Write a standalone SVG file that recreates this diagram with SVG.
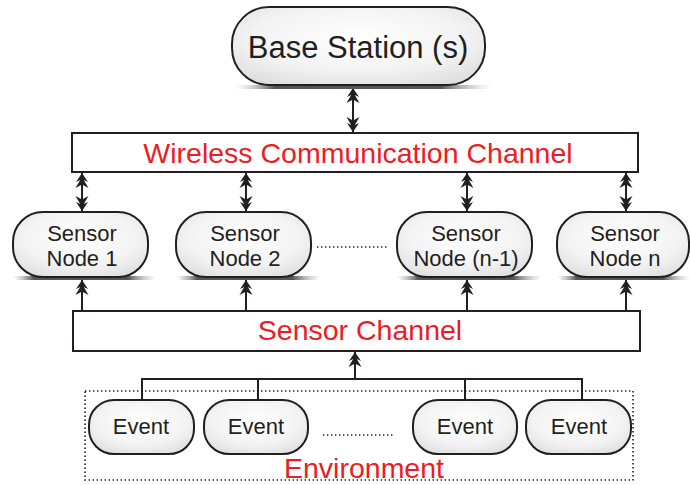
<svg xmlns="http://www.w3.org/2000/svg" width="690" height="485" viewBox="0 0 690 485">
<style>
.node{fill:url(#g);stroke:#231f20;stroke-width:2}
.box{fill:#fff;stroke:#231f20;stroke-width:2}
.t{font-family:"Liberation Sans",Arial,sans-serif;fill:#231f20;text-anchor:middle}
.r{font-family:"Liberation Sans",Arial,sans-serif;fill:#ed1c24;text-anchor:middle;font-size:28.5px}
.ln{stroke:#231f20;stroke-width:2;fill:none}
.dot{stroke:#231f20;stroke-width:1.6;fill:none;stroke-dasharray:1.4 2.6}
.sh{fill:url(#sg)}
</style>
<defs>
<radialGradient id="g" cx="0.5" cy="0.4" r="0.7">
<stop offset="0" stop-color="#ffffff"/>
<stop offset="0.6" stop-color="#f3f3f3"/>
<stop offset="1" stop-color="#dcdcdc"/>
</radialGradient>
<linearGradient id="sg" x1="0" x2="1" y1="0" y2="0">
<stop offset="0" stop-color="#bbb" stop-opacity="0"/>
<stop offset="0.15" stop-color="#555"/>
<stop offset="0.8" stop-color="#555"/>
<stop offset="1" stop-color="#bbb" stop-opacity="0"/>
</linearGradient>
<marker id="a" viewBox="-16 -7 17 14" refX="0" refY="0" markerWidth="17" markerHeight="14" markerUnits="userSpaceOnUse" orient="auto-start-reverse">
<path d="M0,0 L-9,-6 L-7,-1.8 L-15,-6.5 L-11.5,0 L-15,6.5 L-7,1.8 L-9,6 Z" fill="#231f20"/>
</marker>
</defs>

<g id="connectors">
<line class="ln" x1="353" y1="88" x2="353" y2="132" marker-start="url(#a)" marker-end="url(#a)"/>
<line class="ln" x1="82" y1="173" x2="82" y2="211" marker-start="url(#a)" marker-end="url(#a)"/>
<line class="ln" x1="246" y1="173" x2="246" y2="211" marker-start="url(#a)" marker-end="url(#a)"/>
<line class="ln" x1="467" y1="173" x2="467" y2="211" marker-start="url(#a)" marker-end="url(#a)"/>
<line class="ln" x1="626" y1="173" x2="626" y2="211" marker-start="url(#a)" marker-end="url(#a)"/>
<line class="ln" x1="82" y1="310" x2="82" y2="280" marker-end="url(#a)"/>
<line class="ln" x1="246" y1="310" x2="246" y2="280" marker-end="url(#a)"/>
<line class="ln" x1="467" y1="310" x2="467" y2="280" marker-end="url(#a)"/>
<line class="ln" x1="626" y1="310" x2="626" y2="280" marker-end="url(#a)"/>
<path class="ln" d="M142,400 V379 H582 V400 M258,379 V400 M465,379 V400"/>
<line class="ln" x1="355" y1="379" x2="355" y2="352" marker-end="url(#a)"/>
<line class="dot" x1="317" y1="247" x2="388" y2="247"/>
<line class="dot" x1="323" y1="435" x2="394" y2="435"/>
</g>

<g id="base-station">
<path class="sh" d="M236,85 H492 L490,89 H238 Z"/>
<rect class="node" x="232" y="7" width="253" height="78" rx="37" ry="37"/>
<text class="t" x="358" y="58" font-size="31">Base Station (s)</text>
</g>

<g id="wireless-channel">
<rect class="box" x="72" y="133" width="566" height="39"/>
<text class="r" x="358" y="163">Wireless Communication Channel</text>
</g>

<g id="sensor-node-1">
<path class="sh" d="M12,276 H157 L152,280 H18 Z"/>
<rect class="node" x="13" y="212" width="135" height="65" rx="30" ry="30"/>
<text class="t" x="82" y="241" font-size="22">Sensor</text>
<text class="t" x="82" y="266" font-size="22">Node 1</text>
</g>
<g id="sensor-node-2">
<path class="sh" d="M175,276 H322 L316,280 H181 Z"/>
<rect class="node" x="176" y="212" width="135" height="65" rx="30" ry="30"/>
<text class="t" x="245" y="241" font-size="22">Sensor</text>
<text class="t" x="245" y="266" font-size="22">Node 2</text>
</g>
<g id="sensor-node-n-1">
<path class="sh" d="M396,276 H543 L537,280 H402 Z"/>
<rect class="node" x="397" y="212" width="135" height="65" rx="30" ry="30"/>
<text class="t" x="466" y="241" font-size="22">Sensor</text>
<text class="t" x="466" y="266" font-size="22">Node (n-1)</text>
</g>
<g id="sensor-node-n">
<path class="sh" d="M556,276 H690 L690,280 H562 Z"/>
<rect class="node" x="557" y="212" width="132" height="65" rx="30" ry="30"/>
<text class="t" x="625" y="241" font-size="22">Sensor</text>
<text class="t" x="625" y="266" font-size="22">Node n</text>
</g>

<g id="sensor-channel">
<rect class="box" x="73" y="311" width="567" height="40"/>
<text class="r" x="360" y="340">Sensor Channel</text>
</g>

<g id="environment">
<rect class="dot" x="85" y="391" width="548" height="89"/>
<text class="r" x="364" y="478">Environment</text>
</g>

<g id="event-1">
<rect class="node" x="89" y="400" width="105" height="54" rx="25" ry="25"/>
<text class="t" x="141" y="434" font-size="22">Event</text>
</g>
<g id="event-2">
<rect class="node" x="204" y="400" width="104" height="54" rx="25" ry="25"/>
<text class="t" x="256" y="434" font-size="22">Event</text>
</g>
<g id="event-3">
<rect class="node" x="413" y="400" width="104" height="54" rx="25" ry="25"/>
<text class="t" x="465" y="434" font-size="22">Event</text>
</g>
<g id="event-4">
<rect class="node" x="526" y="400" width="105" height="54" rx="25" ry="25"/>
<text class="t" x="579" y="434" font-size="22">Event</text>
</g>
</svg>
